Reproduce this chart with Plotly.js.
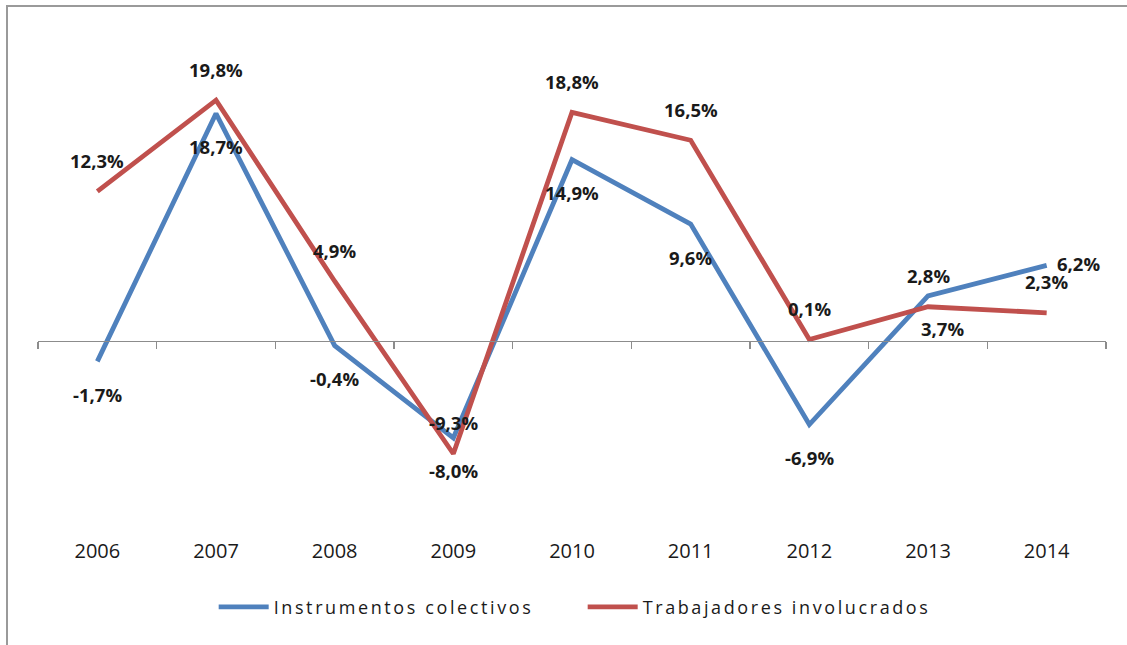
<!DOCTYPE html>
<html>
<head>
<meta charset="utf-8">
<script src="https://cdn.plot.ly/plotly-3.0.1.min.js"></script>
<style>
  html, body { margin: 0; padding: 0; background: #fff; }
  #wrap { position: relative; width: 1127px; height: 645px; }
  #chart { width: 1127px; height: 645px; }
  #frame { position: absolute; left: 6px; top: 5px; right: 0; bottom: 0;
           border-left: 2px solid #9a9a9a; border-top: 2px solid #9a9a9a;
           pointer-events: none; }
  #chart .legendtext { letter-spacing: 2.6px; }
</style>
</head>
<body>
<div id="wrap">
  <div id="chart"></div>
  <div id="frame"></div>
</div>
<script>
const years = ['2006', '2007', '2008', '2009', '2010', '2011', '2012', '2013', '2014'];
const instrumentos = [-1.7, 18.7, -0.4, -8.0, 14.9, 9.6, -6.9, 3.7, 6.2];
const trabajadores = [12.3, 19.8, 4.9, -9.3, 18.8, 16.5, 0.1, 2.8, 2.3];
const seriesNames = ['Instrumentos colectivos', 'Trabajadores involucrados'];

const BLUE = '#4F81BD';
const RED = '#C0504D';
const FONT = 'Open Sans, Noto Sans, sans-serif';

function fmt(v) { return v.toFixed(1).replace('.', ',') + '%'; }

const traces = [
  { x: years, y: instrumentos, name: seriesNames[0], type: 'scatter', mode: 'lines',
    line: { color: BLUE, width: 4.8 }, hoverinfo: 'none' },
  { x: years, y: trabajadores, name: seriesNames[1], type: 'scatter', mode: 'lines',
    line: { color: RED, width: 4.8 }, hoverinfo: 'none' },
  // invisible helper trace so the zero-line category axis gets its categories
  { x: years, y: instrumentos, xaxis: 'x2', type: 'scatter', mode: 'lines',
    line: { color: 'rgba(0,0,0,0)', width: 0 }, showlegend: false, hoverinfo: 'none' }
];

// data labels: category index on the category x axis, value on y
const annotations = [];
years.forEach((yr, i) => {
  const last = i === years.length - 1;
  annotations.push({
    x: i, y: instrumentos[i], xref: 'x', yref: 'y', text: '<b>' + fmt(instrumentos[i]) + '</b>',
    showarrow: false, xshift: last ? 32 : (i === 7 ? 14 : 0), yshift: last ? 2 : -33,
    font: { family: FONT, size: 18.5, color: '#1a1a1a' }
  });
  annotations.push({
    x: i, y: trabajadores[i], xref: 'x', yref: 'y', text: '<b>' + fmt(trabajadores[i]) + '</b>',
    showarrow: false, yshift: 31,
    font: { family: FONT, size: 18.5, color: '#1a1a1a' }
  });
});

const layout = {
  width: 1127, height: 645,
  margin: { l: 38, r: 21, t: 37, b: 122 },
  paper_bgcolor: '#fff', plot_bgcolor: 'rgba(0,0,0,0)',
  font: { family: FONT, size: 18, color: '#1a1a1a' },
  showlegend: true,
  legend: { orientation: 'h', x: 0.51, xanchor: 'center', y: -0.173, yanchor: 'middle',
            font: { family: FONT, size: 18, color: '#1a1a1a' }, itemwidth: 50,
            entrywidth: 304, entrywidthmode: 'pixels', traceorder: 'normal' },
  xaxis: {
    type: 'category', range: [-0.5, 8.5], showgrid: false, zeroline: false, showline: false,
    ticks: 'outside', ticklen: 10, tickcolor: 'rgba(0,0,0,0)',
    tickfont: { family: FONT, size: 20, color: '#1a1a1a' }, fixedrange: true
  },
  xaxis2: {
    type: 'category', overlaying: 'x', anchor: 'free', position: 0.375, range: [-0.5, 8.5],
    showgrid: false, zeroline: false, showline: true, linecolor: '#8c8c8c', linewidth: 1.5,
    ticks: 'outside', tickson: 'boundaries', ticklen: 7, tickcolor: '#8c8c8c', tickwidth: 1.5,
    showticklabels: false, fixedrange: true
  },
  yaxis: {
    range: [-15, 25], showgrid: false, zeroline: false, showline: false,
    showticklabels: false, ticks: '', fixedrange: true
  },
  annotations: annotations
};

Plotly.newPlot('chart', traces, layout, { displayModeBar: false, staticPlot: true });
</script>
</body>
</html>
